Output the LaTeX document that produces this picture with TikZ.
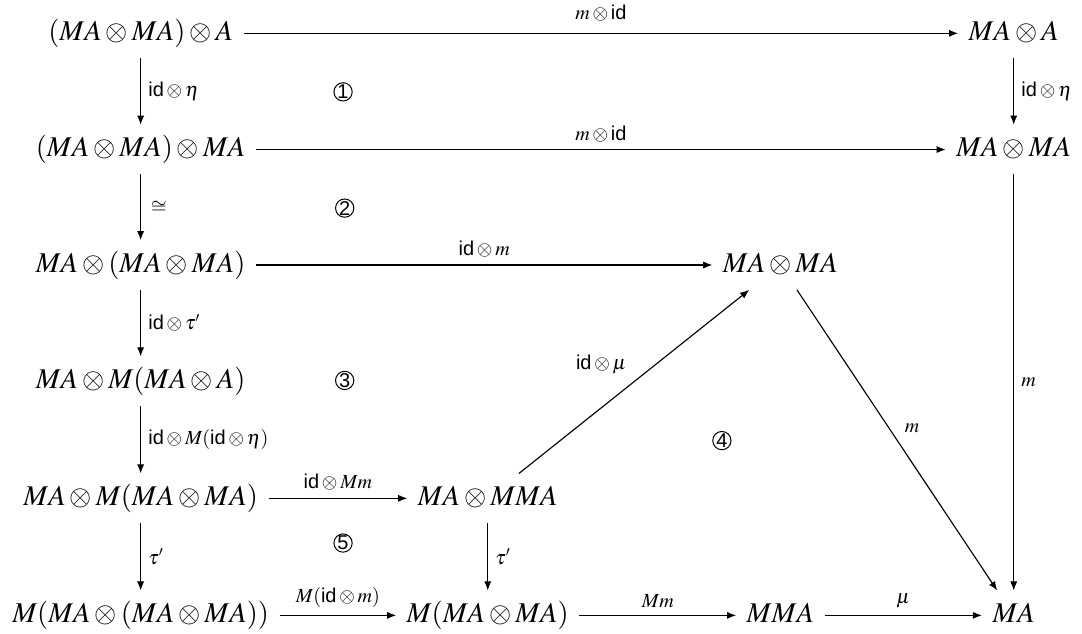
\documentclass[tikz,border=0pt]{standalone}
\usepackage{amsmath}
\usepackage{mathptmx}
\usepackage[no-math]{fontspec}
\newfontfamily\idfont{Liberation Sans}
\usetikzlibrary{arrows.meta}
\newcommand{\ident}{\text{\idfont id}}

\begin{document}
\begin{tikzpicture}[
  arr/.style={-{Latex[length=3.2pt,width=2.5pt]}, line width=0.4pt},
  lbl/.style={font=\scriptsize, inner sep=2.5pt},
  obj/.style={inner sep=3.5pt, text height=7.5pt, text depth=2.5pt},
  cnum/.style={circle, draw, line width=0.35pt, inner sep=0pt, minimum size=6.4pt, font=\idfont\scriptsize}
]
\useasboundingbox (0,0) rectangle (13.31,7.79);

% objects
\node[obj] (a1) at (1.73,7.38)  {$(MA\otimes MA)\otimes A$};
\node[obj] (b1) at (12.47,7.38) {$MA\otimes A$};
\node[obj] (a2) at (1.73,5.95)  {$(MA\otimes MA)\otimes MA$};
\node[obj] (b2) at (12.47,5.95) {$MA\otimes MA$};
\node[obj] (a3) at (1.73,4.53)  {$MA\otimes(MA\otimes MA)$};
\node[obj] (c3) at (9.6,4.53)   {$MA\otimes MA$};
\node[obj] (a4) at (1.73,3.1)   {$MA\otimes M(MA\otimes A)$};
\node[obj] (a5) at (1.73,1.66)  {$MA\otimes M(MA\otimes MA)$};
\node[obj] (m5) at (6.0,1.66)   {$MA\otimes MMA$};
\node[obj] (a6) at (1.73,0.22)  {$M(MA\otimes(MA\otimes MA))$};
\node[obj] (m6) at (6.0,0.22)   {$M(MA\otimes MA)$};
\node[obj] (c6) at (9.6,0.22)   {$MMA$};
\node[obj] (b6) at (12.47,0.22) {$MA$};

% arrows
\draw[arr] (a1) -- node[above=1.5pt,lbl]{$m\otimes\ident$} (b1);
\draw[arr] (a2) -- node[above,lbl]{$m\otimes\ident$} (b2);
\draw[arr] (a3) -- node[above,lbl]{$\ident\otimes m$} (c3);
\draw[arr] (a5) -- node[above,lbl]{$\ident\otimes Mm$} (m5);
\draw[arr] (a6) -- node[above,lbl]{$M(\ident\otimes m)$} (m6);
\draw[arr] (m6) -- node[above,lbl]{$Mm$} (c6);
\draw[arr] (c6) -- node[above,lbl]{$\mu$} (b6);

\draw[arr] (a1) -- node[right,lbl]{$\ident\otimes\eta$} (a2);
\draw[arr] (a2) -- node[right=1pt,lbl]{$\cong$} (a3);
\draw[arr] (a3) -- node[right,lbl]{$\ident\otimes\tau'$} (a4);
\draw[arr] (a4) -- node[right,lbl]{$\ident\otimes M(\ident\otimes\eta)$} (a5);
\draw[arr] (a5) -- node[right,lbl]{$\tau'$} (a6);
\draw[arr] (m5) -- node[right,lbl]{$\tau'$} (m6);
\draw[arr] (b1) -- node[right,lbl]{$\ident\otimes\eta$} (b2);
\draw[arr] (b2) -- node[right,lbl]{$m$} (b6);

\draw[arr] (m5) -- node[above left,lbl]{$\ident\otimes\mu$} (c3);
\draw[arr] (c3) -- node[above right,lbl]{$m$} (b6);

% cells
\node[cnum] (n1) at (4.22,6.66) {1};
\node[cnum] (n2) at (4.24,5.23) {2};
\node[cnum] (n3) at (4.24,3.11) {3};
\node[cnum] (n4) at (8.88,2.37) {4};
\node[cnum] (n5) at (4.22,1.11) {5};
\end{tikzpicture}
\end{document}
